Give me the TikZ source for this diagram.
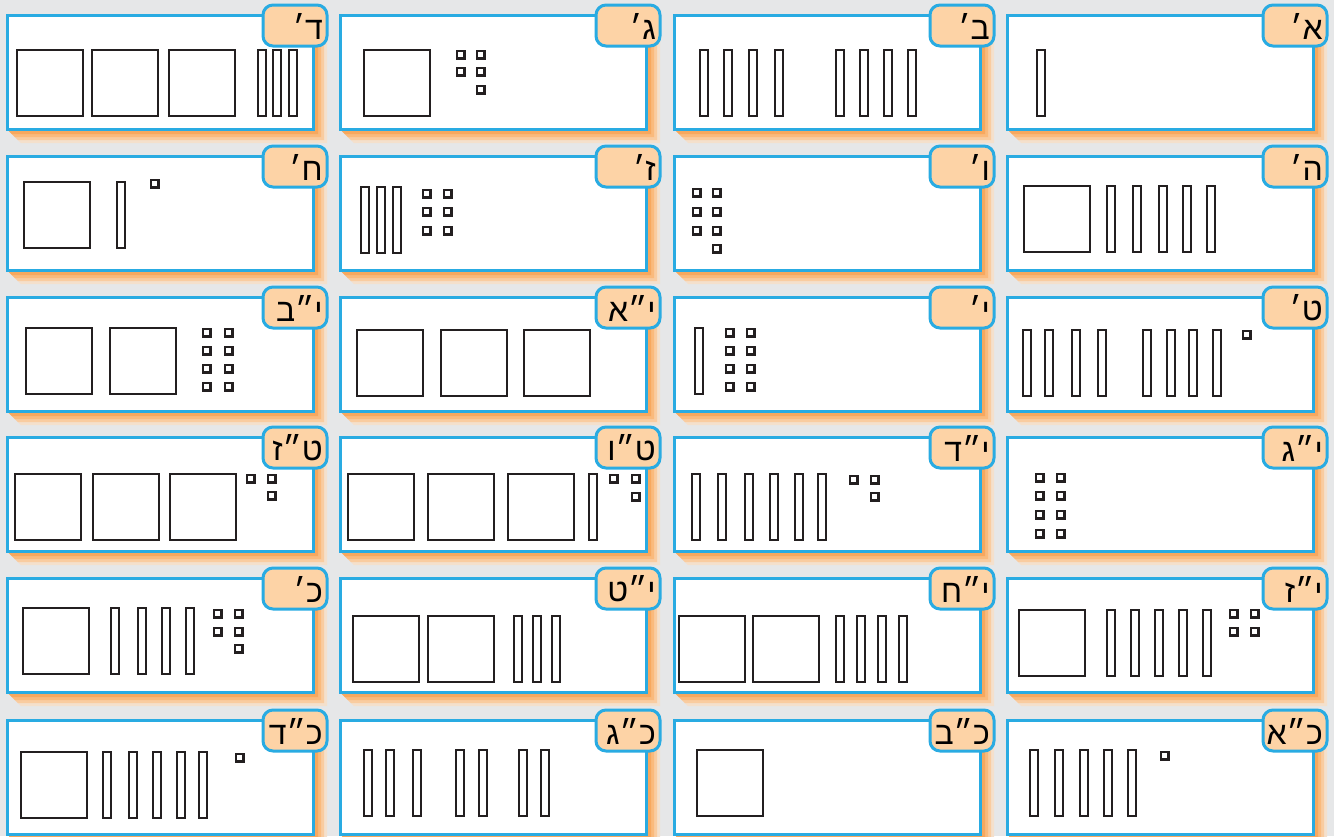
\documentclass[tikz,border=0pt]{standalone}
\usepackage{fontspec}
\newfontfamily\hebfont[Script=Hebrew]{Liberation Sans}
\TeXXeTstate=1
\definecolor{bgc}{RGB}{230,231,232}
\definecolor{blu}{RGB}{41,171,226}
\definecolor{tabc}{RGB}{253,211,166}
\definecolor{inkc}{RGB}{35,31,32}
\definecolor{shA}{RGB}{244,224,204}
\definecolor{shB}{RGB}{249,204,160}
\definecolor{shC}{RGB}{250,186,124}
\definecolor{shD}{RGB}{247,168,94}
\tikzset{
  cardline/.style={draw=blu,line width=3pt,fill=white},
  tabstyle/.style={draw=blu,line width=3pt,fill=tabc,rounded corners=10pt},
  lbl/.style={anchor=east,inner sep=0pt,text=black,font=\hebfont\fontsize{32}{32}\selectfont},
  sqs/.style={draw=inkc,line width=2.2pt,fill=white},
  units/.style={draw=inkc,line width=2.6pt,fill=white},
}
\newcommand\cardbox[4]{%
  \begin{scope}[shift={(#1,#2)}]
    \foreach \d/\c in {14/shA,11/shB,8/shC,5/shD}{
      \fill[\c] (0,114) -- (\d,114+\d) -- (306+\d,114+\d) -- (306+\d,25) -- (306,25) -- cycle;}
    \draw[cardline] (0,0) rectangle (306,114);
    \draw[tabstyle] (256,-10) rectangle (320,31);
    \node[lbl] (#4) at (316,11) {\beginR #3\endR};
  \end{scope}}
\newcommand\sqb[2]{\draw[sqs] (#1,#2) rectangle ++(66,66);}
\newcommand\rodb[2]{\draw[sqs] (#1,#2) rectangle ++(8,66);}
\newcommand\unitb[2]{\draw[units] (#1,#2) rectangle ++(7.5,7.5);}
\begin{document}
\begin{tikzpicture}[x=1pt,y=-1pt]
\useasboundingbox (0,0) rectangle (1334,836);
\fill[bgc] (0,0) rectangle (1334,836);
% row 1
\cardbox{1007}{15}{א׳}{c1}
\cardbox{674}{15}{ב׳}{c2}
\cardbox{340}{15}{ג׳}{c3}
\cardbox{7}{15}{ד׳}{c4}
% row 2
\cardbox{1007}{156}{ה׳}{c5}
\cardbox{674}{156}{ו׳}{c6}
\cardbox{340}{156}{ז׳}{c7}
\cardbox{7}{156}{ח׳}{c8}
% row 3
\cardbox{1007}{297}{ט׳}{c9}
\cardbox{674}{297}{י׳}{c10}
\cardbox{340}{297}{י״א}{c11}
\cardbox{7}{297}{י״ב}{c12}
% row 4
\cardbox{1007}{437}{י״ג}{c13}
\cardbox{674}{437}{י״ד}{c14}
\cardbox{340}{437}{ט״ו}{c15}
\cardbox{7}{437}{ט״ז}{c16}
% row 5
\cardbox{1007}{578}{י״ז}{c17}
\cardbox{674}{578}{י״ח}{c18}
\cardbox{340}{578}{י״ט}{c19}
\cardbox{7}{578}{כ׳}{c20}
% row 6
\cardbox{1007}{720}{כ״א}{c21}
\cardbox{674}{720}{כ״ב}{c22}
\cardbox{340}{720}{כ״ג}{c23}
\cardbox{7}{720}{כ״ד}{c24}
% ---- contents row 1
\rodb{1037}{50}
\foreach \x in {700,724,749,775,836,860,884,908}{\rodb{\x}{50}}
\sqb{364}{50}
\unitb{457}{51}\unitb{477}{51}\unitb{457}{68}\unitb{477}{68}\unitb{477}{86}
\sqb{17}{50}\sqb{92}{50}\sqb{169}{50}
\rodb{258}{50}\rodb{273}{50}\rodb{289}{50}
% ---- row 2
\sqb{1024}{186}
\foreach \x in {1107,1133,1159,1183,1207}{\rodb{\x}{186}}
\unitb{693}{189}\unitb{713}{189}\unitb{693}{208}\unitb{713}{208}\unitb{693}{227}\unitb{713}{227}\unitb{713}{245}
\rodb{361}{187}\rodb{377}{187}\rodb{393}{187}
\unitb{423}{190}\unitb{444}{190}\unitb{423}{208}\unitb{444}{208}\unitb{423}{227}\unitb{444}{227}
\sqb{24}{182}\rodb{117}{182}\unitb{151}{180}
% ---- row 3
\foreach \x in {1023,1045,1072,1098,1143,1167,1189,1213}{\rodb{\x}{330}}
\unitb{1243}{331}
\rodb{695}{328}
\foreach \yy in {329,347,365,383}{\unitb{726}{\yy}\unitb{747}{\yy}}
\sqb{357}{330}\sqb{441}{330}\sqb{524}{330}
\sqb{26}{328}\sqb{110}{328}
\foreach \yy in {329,347,365,383}{\unitb{203}{\yy}\unitb{225}{\yy}}
% ---- row 4
\foreach \yy in {474,492,511,530}{\unitb{1036}{\yy}\unitb{1057}{\yy}}
\foreach \x in {692,718,745,770,795,818}{\rodb{\x}{474}}
\unitb{850}{476}\unitb{871}{476}\unitb{871}{493}
\sqb{348}{474}\sqb{428}{474}\sqb{508}{474}\rodb{589}{474}
\unitb{610}{475}\unitb{632}{475}\unitb{632}{493}
\sqb{15}{474}\sqb{93}{474}\sqb{170}{474}
\unitb{247}{475}\unitb{268}{475}\unitb{268}{492}
% ---- row 5
\sqb{1019}{610}
\foreach \x in {1107,1131,1155,1179,1203}{\rodb{\x}{610}}
\unitb{1230}{610}\unitb{1251}{610}\unitb{1230}{628}\unitb{1251}{628}
\sqb{679}{616}\sqb{753}{616}
\foreach \x in {836,857,878,899}{\rodb{\x}{616}}
\sqb{353}{616}\sqb{428}{616}
\foreach \x in {514,533,552}{\rodb{\x}{616}}
\sqb{23}{608}
\foreach \x in {111,138,162,186}{\rodb{\x}{608}}
\unitb{214}{610}\unitb{235}{610}\unitb{214}{628}\unitb{235}{628}\unitb{235}{645}
% ---- row 6
\foreach \x in {1030,1055,1080,1104,1128}{\rodb{\x}{750}}
\unitb{1161}{752}
\sqb{697}{750}
\foreach \x in {364,386,413,456,479,519,541}{\rodb{\x}{750}}
\sqb{21}{752}
\foreach \x in {103,129,153,177,199}{\rodb{\x}{752}}
\unitb{236}{754}
\end{tikzpicture}
\end{document}
